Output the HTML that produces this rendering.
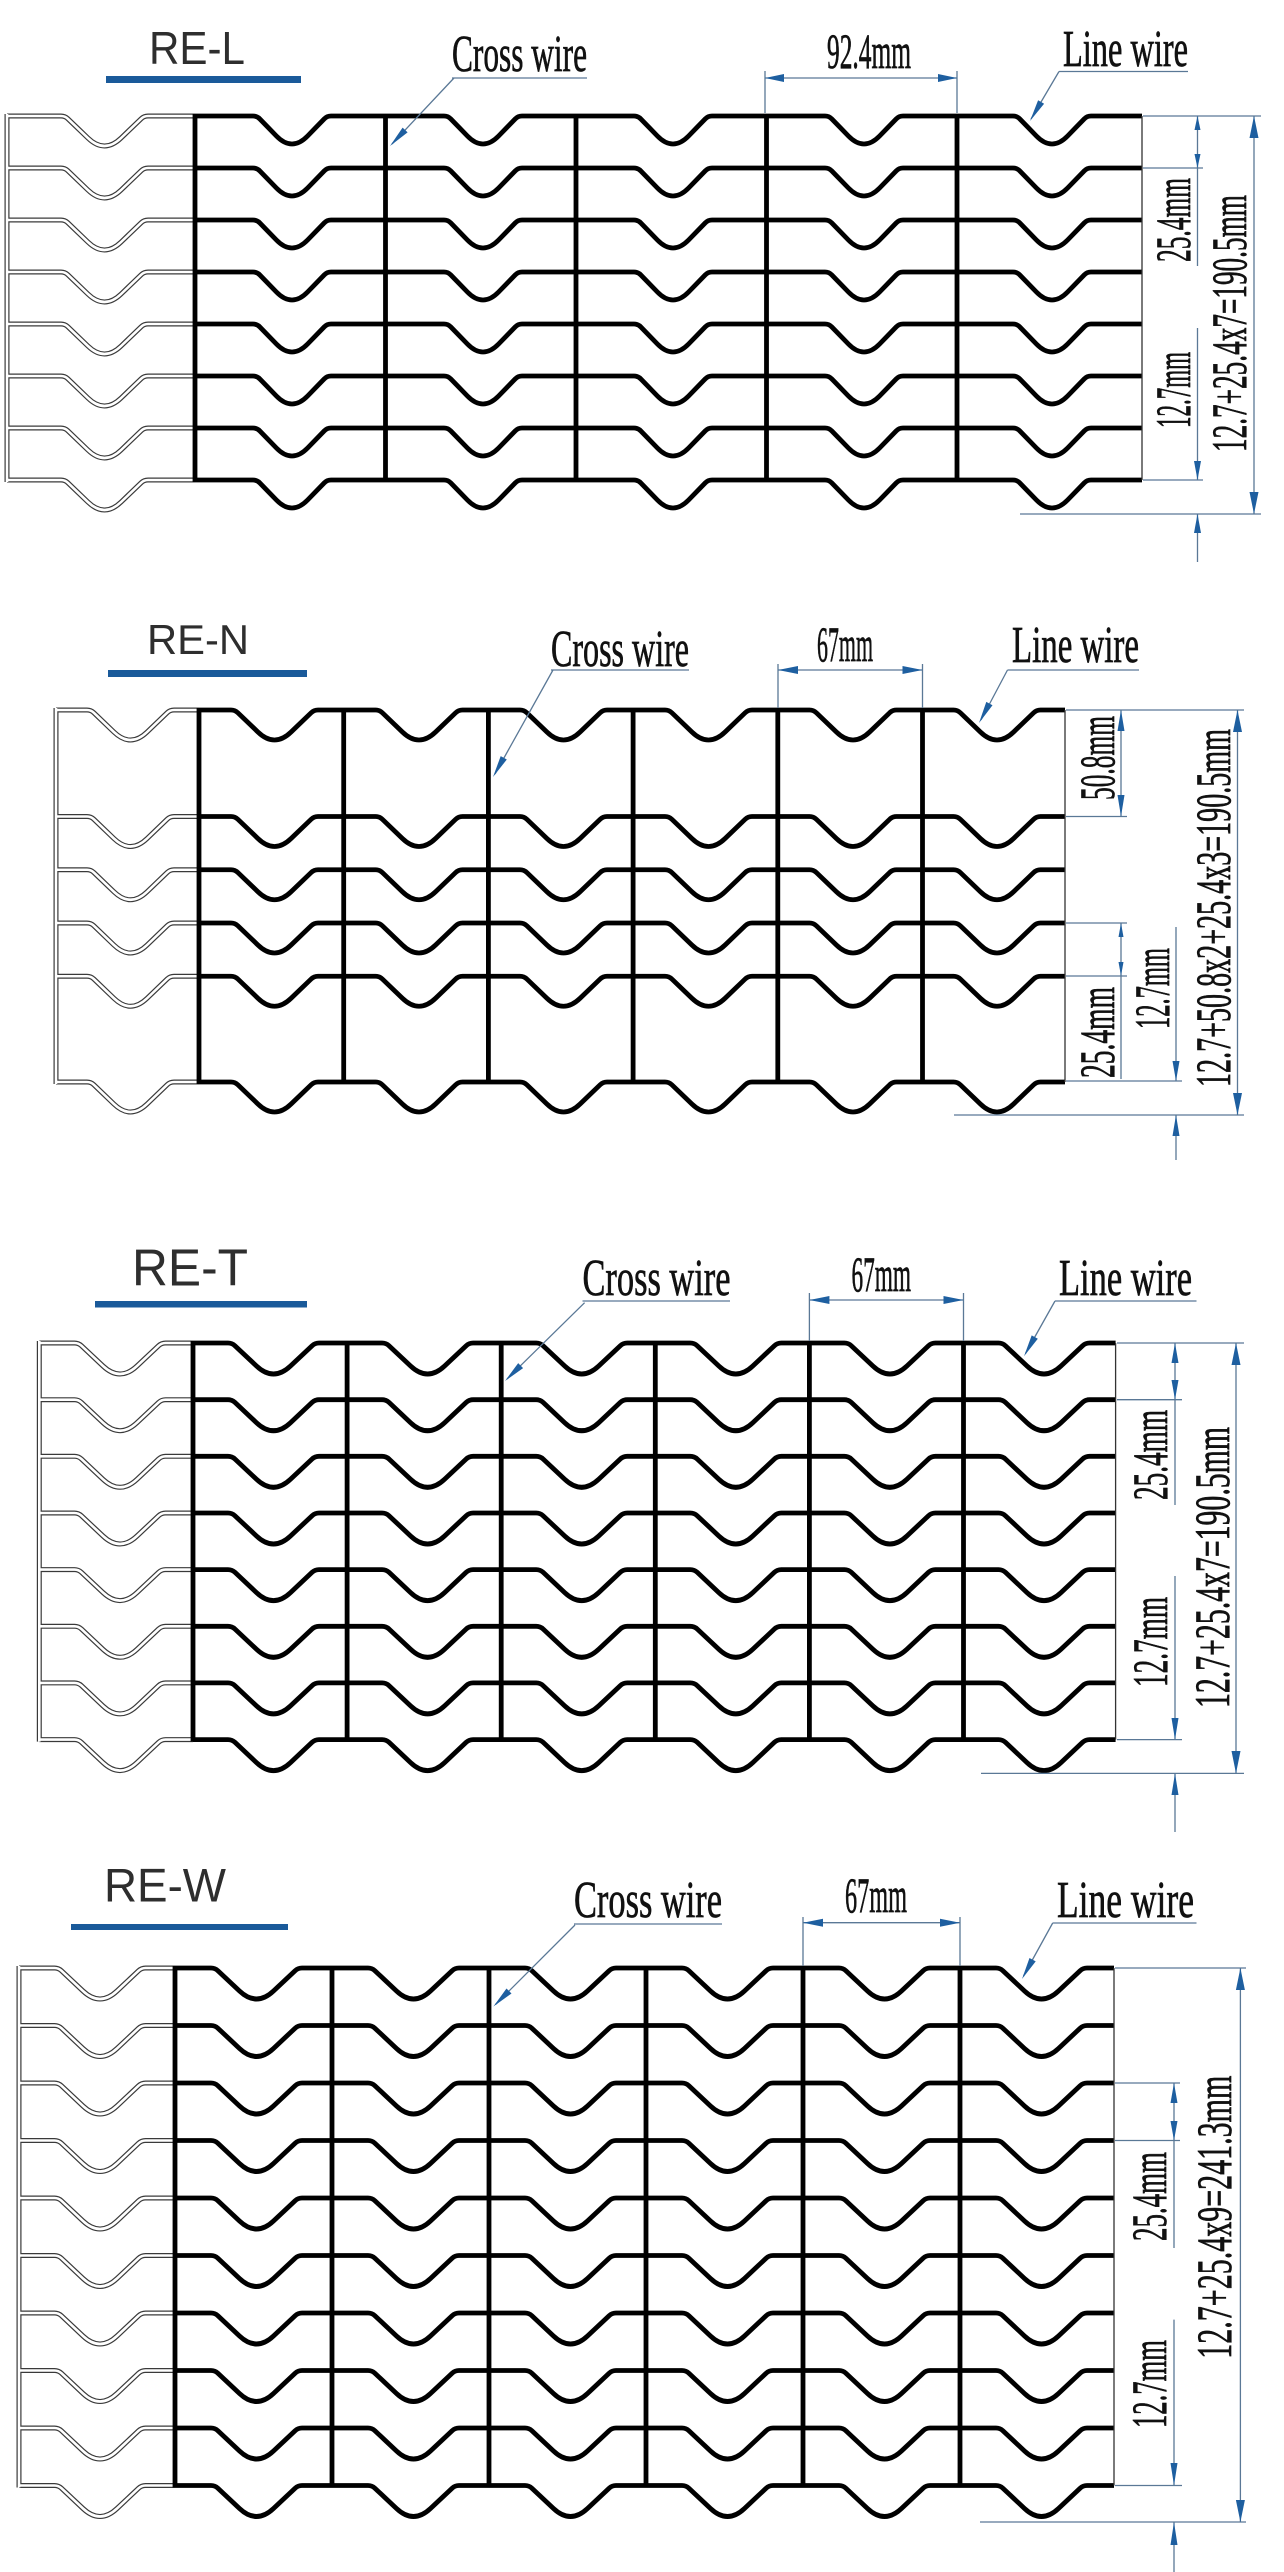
<!DOCTYPE html>
<html>
<head>
<meta charset="utf-8">
<style>
html,body{margin:0;padding:0;background:#fff;}
svg{display:block;}
.t{font-family:"Liberation Sans",Arial,sans-serif;fill:#2e2e2e;}
.s{font-family:"Liberation Serif","Times New Roman",serif;fill:#111;stroke:#111;stroke-width:0.7;font-size:52px;}
.d{font-family:"Liberation Serif","Times New Roman",serif;fill:#111;stroke:#111;stroke-width:0.7;font-size:50px;}
</style>
</head>
<body>
<svg width="1284" height="2572" viewBox="0 0 1284 2572" xmlns="http://www.w3.org/2000/svg">
<rect x="0" y="0" width="1284" height="2572" fill="#fff"/>
<defs>
<path id="r1" d="M195,0 H253 q4,0 6.8,2.9 l16.6,17.1 q15.6,16 31.2,0 l16.6,-17.1 q2.8,-2.9 6.8,-2.9 H444 q4,0 6.8,2.9 l16.6,17.1 q15.6,16 31.2,0 l16.6,-17.1 q2.8,-2.9 6.8,-2.9 H634 q4,0 6.8,2.9 l16.6,17.1 q15.6,16 31.2,0 l16.6,-17.1 q2.8,-2.9 6.8,-2.9 H825 q4,0 6.8,2.9 l16.6,17.1 q15.6,16 31.2,0 l16.6,-17.1 q2.8,-2.9 6.8,-2.9 H1013 q4,0 6.8,2.9 l16.6,17.1 q15.6,16 31.2,0 l16.6,-17.1 q2.8,-2.9 6.8,-2.9 H1142"/>
<path id="r2" d="M199,0 H231 q4,0 6.9,2.8 l20,19.2 q16.6,16 33.2,0 l20,-19.2 q2.9,-2.8 6.9,-2.8 H375.5 q4,0 6.9,2.8 l20,19.2 q16.6,16 33.2,0 l20,-19.2 q2.9,-2.8 6.9,-2.8 H520 q4,0 6.9,2.8 l20,19.2 q16.6,16 33.2,0 l20,-19.2 q2.9,-2.8 6.9,-2.8 H665 q4,0 6.9,2.8 l20,19.2 q16.6,16 33.2,0 l20,-19.2 q2.9,-2.8 6.9,-2.8 H809.5 q4,0 6.9,2.8 l20,19.2 q16.6,16 33.2,0 l20,-19.2 q2.9,-2.8 6.9,-2.8 H953.5 q4,0 6.9,2.8 l20,19.2 q16.6,16 33.2,0 l20,-19.2 q2.9,-2.8 6.9,-2.8 H1065"/>
<path id="r3" d="M193,0 H228 q4,0 6.9,2.7 l21.6,20.3 q17,16 34,0 l21.6,-20.3 q2.9,-2.7 6.9,-2.7 H382.1 q4,0 6.9,2.7 l21.6,20.3 q17,16 34,0 l21.6,-20.3 q2.9,-2.7 6.9,-2.7 H536.2 q4,0 6.9,2.7 l21.6,20.3 q17,16 34,0 l21.6,-20.3 q2.9,-2.7 6.9,-2.7 H690.3 q4,0 6.9,2.7 l21.6,20.3 q17,16 34,0 l21.6,-20.3 q2.9,-2.7 6.9,-2.7 H844.4 q4,0 6.9,2.7 l21.6,20.3 q17,16 34,0 l21.6,-20.3 q2.9,-2.7 6.9,-2.7 H998.5 q4,0 6.9,2.7 l21.6,20.3 q17,16 34,0 l21.6,-20.3 q2.9,-2.7 6.9,-2.7 H1115.6"/>
<path id="r4" d="M175,0 H211 q4,0 6.9,2.7 l21.6,20.3 q17,16 34,0 l21.6,-20.3 q2.9,-2.7 6.9,-2.7 H368 q4,0 6.9,2.7 l21.6,20.3 q17,16 34,0 l21.6,-20.3 q2.9,-2.7 6.9,-2.7 H525 q4,0 6.9,2.7 l21.6,20.3 q17,16 34,0 l21.6,-20.3 q2.9,-2.7 6.9,-2.7 H682 q4,0 6.9,2.7 l21.6,20.3 q17,16 34,0 l21.6,-20.3 q2.9,-2.7 6.9,-2.7 H839 q4,0 6.9,2.7 l21.6,20.3 q17,16 34,0 l21.6,-20.3 q2.9,-2.7 6.9,-2.7 H996 q4,0 6.9,2.7 l21.6,20.3 q17,16 34,0 l21.6,-20.3 q2.9,-2.7 6.9,-2.7 H1114"/>
<path id="g1" d="M7,0 H61 q4,0 6.9,2.8 l20,19.2 q16.6,16 33.2,0 l20,-19.2 q2.9,-2.8 6.9,-2.8 H195"/>
<path id="g2" d="M56,0 H87 q4,0 6.9,2.8 l20,19.2 q16.6,16 33.2,0 l20,-19.2 q2.9,-2.8 6.9,-2.8 H199"/>
<path id="g3" d="M39.3,0 H74.5 q4,0 6.9,2.7 l21.6,20.3 q17,16 34,0 l21.6,-20.3 q2.9,-2.7 6.9,-2.7 H193"/>
<path id="g4" d="M19,0 H54.5 q4,0 6.9,2.7 l21.6,20.3 q17,16 34,0 l21.6,-20.3 q2.9,-2.7 6.9,-2.7 H175"/>
<g id="ghost">
  <path d="M7,114 V482"/>
  <use href="#g1" y="116"/><use href="#g1" y="168"/><use href="#g1" y="220"/><use href="#g1" y="272"/>
  <use href="#g1" y="324"/><use href="#g1" y="376"/><use href="#g1" y="428"/><use href="#g1" y="480"/>
  <path d="M56,708 V1084"/>
  <use href="#g2" y="710"/><use href="#g2" y="816.5"/><use href="#g2" y="869.75"/><use href="#g2" y="923"/>
  <use href="#g2" y="976.25"/><use href="#g2" y="1082"/>
  <path d="M39.3,1341 V1741.6"/>
  <use href="#g3" y="1343"/><use href="#g3" y="1399.7"/><use href="#g3" y="1456.3"/><use href="#g3" y="1513"/>
  <use href="#g3" y="1569.6"/><use href="#g3" y="1626.3"/><use href="#g3" y="1682.9"/><use href="#g3" y="1739.6"/>
  <path d="M19,1966 V2487.5"/>
  <use href="#g4" y="1968"/><use href="#g4" y="2025.5"/><use href="#g4" y="2083"/><use href="#g4" y="2140.5"/>
  <use href="#g4" y="2198"/><use href="#g4" y="2255.5"/><use href="#g4" y="2313"/><use href="#g4" y="2370.5"/>
  <use href="#g4" y="2428"/><use href="#g4" y="2485.5"/>
</g>
</defs>

<use href="#ghost" fill="none" stroke="#3a3a3a" stroke-width="5"/>
<use href="#ghost" fill="none" stroke="#ffffff" stroke-width="2.6"/>

<g fill="none" stroke="#000" stroke-width="4.8" stroke-linejoin="round">
  <use href="#r1" y="116"/><use href="#r1" y="168"/><use href="#r1" y="220"/><use href="#r1" y="272"/>
  <use href="#r1" y="324"/><use href="#r1" y="376"/><use href="#r1" y="428"/><use href="#r1" y="480"/>
  <path d="M195,114V482 M385.5,114V482 M576,114V482 M766.5,114V482 M957,114V482"/>
  <use href="#r2" y="710"/><use href="#r2" y="816.5"/><use href="#r2" y="869.75"/><use href="#r2" y="923"/>
  <use href="#r2" y="976.25"/><use href="#r2" y="1082"/>
  <path d="M199,708V1084 M343.7,708V1084 M488.4,708V1084 M633.1,708V1084 M777.8,708V1084 M922.5,708V1084"/>
  <use href="#r3" y="1343"/><use href="#r3" y="1399.7"/><use href="#r3" y="1456.3"/><use href="#r3" y="1513"/>
  <use href="#r3" y="1569.6"/><use href="#r3" y="1626.3"/><use href="#r3" y="1682.9"/><use href="#r3" y="1739.6"/>
  <path d="M193,1341V1741.6 M347.1,1341V1741.6 M501.2,1341V1741.6 M655.3,1341V1741.6 M809.4,1341V1741.6 M963.5,1341V1741.6"/>
  <use href="#r4" y="1968"/><use href="#r4" y="2025.5"/><use href="#r4" y="2083"/><use href="#r4" y="2140.5"/>
  <use href="#r4" y="2198"/><use href="#r4" y="2255.5"/><use href="#r4" y="2313"/><use href="#r4" y="2370.5"/>
  <use href="#r4" y="2428"/><use href="#r4" y="2485.5"/>
  <path d="M175,1966V2487.5 M332,1966V2487.5 M489,1966V2487.5 M646,1966V2487.5 M803,1966V2487.5 M960,1966V2487.5"/>
</g>
<g stroke="#333" stroke-width="1.3" fill="none">
  <path d="M1142,116V480 M1065,710V1082 M1115.6,1343V1739.6 M1114,1968V2485.5"/>
</g>

<g stroke="#5a7896" stroke-width="1.3" fill="none">
  <path d="M452,78H587 M454,78L392,144 M765,71V113 M957,71V113 M765,78H957 M1059,71.5H1188 M1059,71.5L1031,119 M1143,116H1261 M1143,168H1203 M1143,480H1203 M1020,514H1261 M1197.5,116V266 M1197.5,328V480 M1197.5,514V562 M1254,116V514"/>
  <path d="M551,670H689 M553,670L495,774 M778,664V708 M922.5,664V708 M778,670H922.5 M1007.5,670H1139 M1007.5,670L981,720 M1066,710H1244 M1066,816.5H1127 M1066,923H1127 M1066,976H1127 M1066,1081H1182 M954,1115H1244 M1121,710V816.5 M1121,923V1079 M1176,927V1081 M1176,1115V1160 M1237.5,710V1115"/>
  <path d="M582.5,1301H730 M584.6,1302.7L507,1379 M809.4,1293V1341 M963.5,1293V1341 M809.4,1300H963.5 M1055,1301H1196.5 M1055,1301L1025.5,1353.5 M1117,1343H1244 M1117,1399.7H1182 M1117,1739.6H1182 M981,1773.4H1244 M1175,1343V1505 M1175,1576V1739.6 M1175,1773.4V1832 M1236,1343V1773.4"/>
  <path d="M574,1924H722 M575,1925L495.5,2004.5 M803,1917V1966 M960,1917V1966 M803,1922.7H960 M1052.7,1923H1196.5 M1052.7,1923L1023.5,1976 M1115,1968H1246 M1115,2083H1180 M1115,2140.5H1180 M1115,2485.5H1182 M980,2522H1246 M1174,2083V2248 M1174,2319.6V2485.5 M1174,2522V2572 M1240.4,1968V2522"/>
</g>

<g fill="#1e5fa0">
  <polygon points="390,146 407.6,132.4 402.6,127.6"/>
  <polygon points="765,78 784,74 784,82"/>
  <polygon points="957,78 938,74 938,82"/>
  <polygon points="1030,121 1044.1,103.8 1038.1,100.2"/>
  <polygon points="1197.5,116 1194.5,130 1200.5,130"/>
  <polygon points="1197.5,168 1194.5,154 1200.5,154"/>
  <polygon points="1197.5,480 1194,461 1201,461"/>
  <polygon points="1197.5,514 1194,533 1201,533"/>
  <polygon points="1254,116 1249.5,138 1258.5,138"/>
  <polygon points="1254,514 1249.5,492 1258.5,492"/>
  <polygon points="493,777 506.8,759.5 500.7,756.1"/>
  <polygon points="778,670 798,666 798,674"/>
  <polygon points="922.5,670 902.5,666 902.5,674"/>
  <polygon points="979,723 992.5,705.3 986.3,701.9"/>
  <polygon points="1121,710 1117.5,731 1124.5,731"/>
  <polygon points="1121,816.5 1117.5,795 1124.5,795"/>
  <polygon points="1121,923 1118.5,937 1123.5,937"/>
  <polygon points="1121,976 1118.5,962 1123.5,962"/>
  <polygon points="1176,1081 1172.5,1061 1179.5,1061"/>
  <polygon points="1176,1115 1172.5,1136 1179.5,1136"/>
  <polygon points="1237.5,710 1233,732 1242,732"/>
  <polygon points="1237.5,1115 1233,1093 1242,1093"/>
  <polygon points="505,1381 523.1,1368.1 518.2,1363.1"/>
  <polygon points="809.4,1300 829.4,1296 829.4,1304"/>
  <polygon points="963.5,1300 943.5,1296 943.5,1304"/>
  <polygon points="1024,1356.3 1037.8,1338.8 1031.7,1335.4"/>
  <polygon points="1175,1343 1171.5,1363 1178.5,1363"/>
  <polygon points="1175,1399.7 1171.5,1380 1178.5,1380"/>
  <polygon points="1175,1739.6 1171.5,1718 1178.5,1718"/>
  <polygon points="1175,1773.4 1171.5,1795 1178.5,1795"/>
  <polygon points="1236,1343 1231.5,1365 1240.5,1365"/>
  <polygon points="1236,1773.4 1231.5,1751 1240.5,1751"/>
  <polygon points="493.4,2006.5 511.5,1993.5 506.5,1988.5"/>
  <polygon points="803,1922.7 823,1918.7 823,1926.7"/>
  <polygon points="960,1922.7 940,1918.7 940,1926.7"/>
  <polygon points="1022,1979 1035.7,1961.4 1029.5,1958"/>
  <polygon points="1174,2083 1170.5,2103 1177.5,2103"/>
  <polygon points="1174,2140.5 1170.5,2121 1177.5,2121"/>
  <polygon points="1174,2485.5 1170.5,2463 1177.5,2463"/>
  <polygon points="1174,2522 1170.5,2545 1177.5,2545"/>
  <polygon points="1240.4,1968 1235.9,1990 1244.9,1990"/>
  <polygon points="1240.4,2522 1235.9,2500 1244.9,2500"/>
</g>

<text class="t" x="149" y="64" font-size="46" textLength="96" lengthAdjust="spacingAndGlyphs">RE-L</text>
<rect x="106" y="76" width="195" height="7" fill="#1a5a9a"/>
<text class="t" x="147" y="654" font-size="42" textLength="102" lengthAdjust="spacingAndGlyphs">RE-N</text>
<rect x="108" y="670" width="199" height="7" fill="#1a5a9a"/>
<text class="t" x="132" y="1285.5" font-size="52" textLength="116" lengthAdjust="spacingAndGlyphs">RE-T</text>
<rect x="95" y="1301" width="212" height="6.5" fill="#1a5a9a"/>
<text class="t" x="104" y="1901.6" font-size="47" textLength="122" lengthAdjust="spacingAndGlyphs">RE-W</text>
<rect x="71" y="1924" width="217" height="6" fill="#1a5a9a"/>

<text class="s" x="452" y="71" textLength="135" lengthAdjust="spacingAndGlyphs">Cross wire</text>
<text class="d" x="827" y="68" textLength="84" lengthAdjust="spacingAndGlyphs">92.4mm</text>
<text class="s" x="1063" y="66" textLength="125" lengthAdjust="spacingAndGlyphs">Line wire</text>
<text class="d" transform="translate(1190,262) rotate(-90)" textLength="84" lengthAdjust="spacingAndGlyphs">25.4mm</text>
<text class="d" transform="translate(1190,428) rotate(-90)" textLength="76" lengthAdjust="spacingAndGlyphs">12.7mm</text>
<text class="d" transform="translate(1246,452) rotate(-90)" textLength="257" lengthAdjust="spacingAndGlyphs">12.7+25.4x7=190.5mm</text>

<text class="s" x="551" y="666" textLength="138" lengthAdjust="spacingAndGlyphs">Cross wire</text>
<text class="d" x="817" y="661" textLength="56" lengthAdjust="spacingAndGlyphs">67mm</text>
<text class="s" x="1012" y="662" textLength="127" lengthAdjust="spacingAndGlyphs">Line wire</text>
<text class="d" transform="translate(1114,800) rotate(-90)" textLength="84" lengthAdjust="spacingAndGlyphs">50.8mm</text>
<text class="d" transform="translate(1114,1078) rotate(-90)" textLength="91" lengthAdjust="spacingAndGlyphs">25.4mm</text>
<text class="d" transform="translate(1169,1029) rotate(-90)" textLength="81" lengthAdjust="spacingAndGlyphs">12.7mm</text>
<text class="d" transform="translate(1230,1087) rotate(-90)" textLength="358" lengthAdjust="spacingAndGlyphs">12.7+50.8x2+25.4x3=190.5mm</text>

<text class="s" x="582.5" y="1295" textLength="148" lengthAdjust="spacingAndGlyphs">Cross wire</text>
<text class="d" x="851.5" y="1291" textLength="59.5" lengthAdjust="spacingAndGlyphs">67mm</text>
<text class="s" x="1059" y="1295" textLength="133" lengthAdjust="spacingAndGlyphs">Line wire</text>
<text class="d" transform="translate(1167,1500) rotate(-90)" textLength="90" lengthAdjust="spacingAndGlyphs">25.4mm</text>
<text class="d" transform="translate(1167,1687) rotate(-90)" textLength="90" lengthAdjust="spacingAndGlyphs">12.7mm</text>
<text class="d" transform="translate(1229,1708) rotate(-90)" textLength="281" lengthAdjust="spacingAndGlyphs">12.7+25.4x7=190.5mm</text>

<text class="s" x="574" y="1917" textLength="148" lengthAdjust="spacingAndGlyphs">Cross wire</text>
<text class="d" x="845" y="1912" textLength="62" lengthAdjust="spacingAndGlyphs">67mm</text>
<text class="s" x="1057" y="1917" textLength="137" lengthAdjust="spacingAndGlyphs">Line wire</text>
<text class="d" transform="translate(1166,2241) rotate(-90)" textLength="89" lengthAdjust="spacingAndGlyphs">25.4mm</text>
<text class="d" transform="translate(1166,2428) rotate(-90)" textLength="88" lengthAdjust="spacingAndGlyphs">12.7mm</text>
<text class="d" transform="translate(1231,2358.7) rotate(-90)" textLength="283" lengthAdjust="spacingAndGlyphs">12.7+25.4x9=241.3mm</text>
</svg>
</body>
</html>
